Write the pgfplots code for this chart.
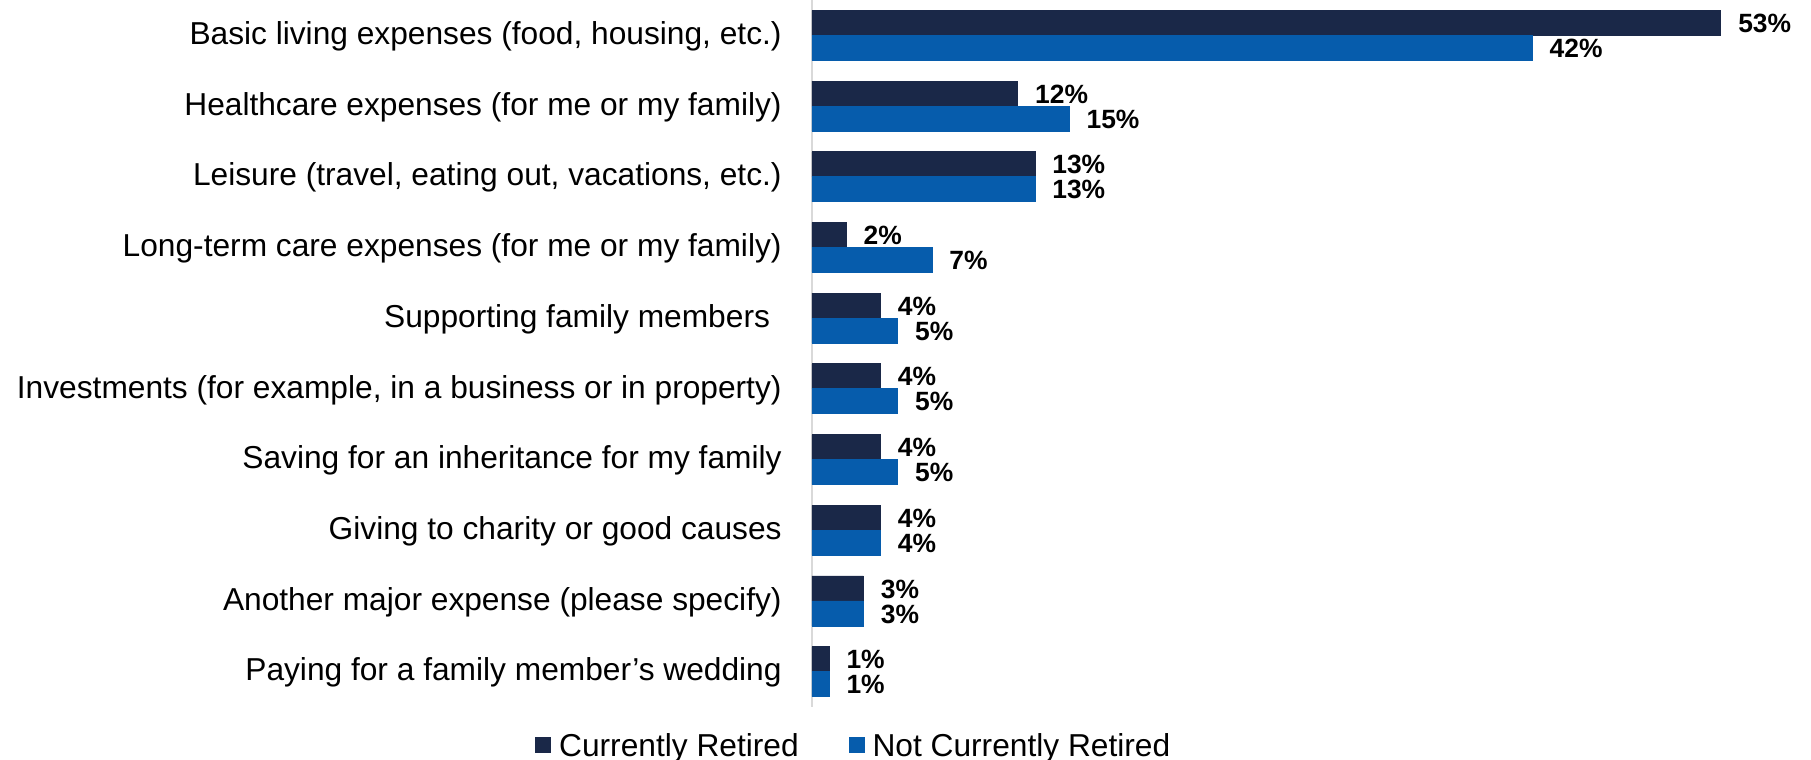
\documentclass[border=0pt]{standalone}
\usepackage{pgfplots}
\pgfplotsset{compat=1.18}
\usepackage{fontspec}
\setmainfont{Liberation Sans}
\definecolor{cdark}{RGB}{26,40,72}
\definecolor{cblue}{RGB}{6,92,172}
\definecolor{caxis}{RGB}{217,217,217}
\begin{document}
\begin{tikzpicture}
\useasboundingbox (-406pt,-26.5pt) rectangle (499.5pt,353.5pt);
\begin{axis}[
  at={(0,0)}, anchor=south west,
  scale only axis,
  width=471.6pt, height=353.5pt,
  xbar=0pt, bar width=12.5pt,
  xmin=0, xmax=55,
  ymin=-0.5, ymax=9.5,
  y dir=reverse,
  clip=false,
  hide x axis,
  axis y line*=left,
  y axis line style={draw=caxis, line width=1pt, -},
  ytick={0,...,9},
  major tick length=0pt,
  ytick style={draw=none},
  yticklabels={
    Basic living expenses (food{,} housing{,} etc.),
    Healthcare expenses (for me or my family),
    Leisure (travel{,} eating out{,} vacations{,} etc.),
    Long-term care expenses (for me or my family),
    Supporting family members\kern5.8pt,
    Investments (for example{,} in a business or in property),
    Saving for an inheritance for my family,
    Giving to charity or good causes,
    Another major expense (please specify),
    Paying for a family member’s wedding
  },
  yticklabel style={font=\fontsize{15.85pt}{19pt}\selectfont, anchor=east, inner sep=0pt, text height=11.35pt, text depth=0pt, xshift=-15pt, yshift=1.1pt},
  point meta=x,
  /pgf/number format/assume math mode=true,
  nodes near coords={\pgfmathprintnumber{\pgfplotspointmeta}\%},
  nodes near coords style={font=\bfseries\fontsize{13.2pt}{16pt}\selectfont, anchor=west, inner sep=0pt, text height=9.6pt, text depth=0pt, xshift=8.5pt, text=black},
  legend columns=2,
  legend style={draw=none, fill=none, inner sep=0pt, at={(rel axis cs:-0.2937,-0.0537)}, anchor=west,
    font=\fontsize{15.85pt}{19pt}\selectfont,
    /tikz/every even column/.append style={column sep=25pt},
    nodes={inner sep=0pt, text depth=0pt}},
  legend image code/.code={\fill[#1] (0pt,-3.75pt) rectangle (7.5pt,3.75pt);},
  legend cell align=left,
]
\addplot[fill=cdark, draw=cdark, bar shift=6.25pt] coordinates {(53,0) (12,1) (13,2) (2,3) (4,4) (4,5) (4,6) (4,7) (3,8) (1,9)};
\addplot[fill=cblue, draw=cblue, bar shift=-6.25pt] coordinates {(42,0) (15,1) (13,2) (7,3) (5,4) (5,5) (5,6) (4,7) (3,8) (1,9)};
\legend{\hspace{4pt}Currently Retired, \hspace{4pt}Not Currently Retired}
\end{axis}
\end{tikzpicture}
\end{document}
